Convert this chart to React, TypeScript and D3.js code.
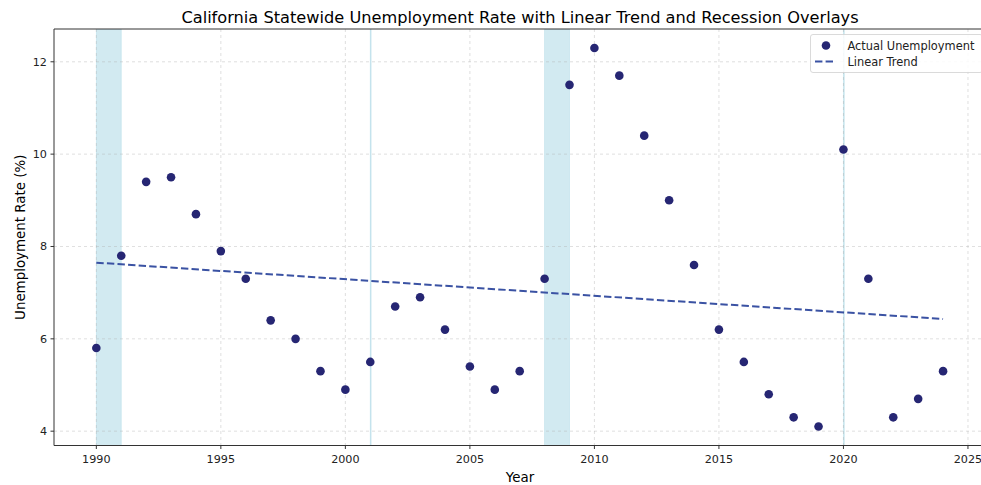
import React from "react";
import * as d3 from "d3";

const years = [1990,1991,1992,1993,1994,1995,1996,1997,1998,1999,2000,2001,2002,2003,2004,2005,2006,2007,2008,2009,2010,2011,2012,2013,2014,2015,2016,2017,2018,2019,2020,2021,2022,2023,2024];
const rates = [5.8,7.8,9.4,9.5,8.7,7.9,7.3,6.4,6.0,5.3,4.9,5.5,6.7,6.9,6.2,5.4,4.9,5.3,7.3,11.5,12.3,11.7,10.4,9.0,7.6,6.2,5.5,4.8,4.3,4.1,10.1,7.3,4.3,4.7,5.3];
const trendYears = [1990, 2024];
const trendValues = [7.65, 6.43];
const recessionStarts = [1990, 2001, 2008, 2020];
const recessionEnds = [1991, 2001, 2009, 2020];
const xTicks = [1990, 1995, 2000, 2005, 2010, 2015, 2020, 2025];
const yTicks = [4, 6, 8, 10, 12];

const W = 981, H = 485;
const left = 54, top = 29, right = 985.4, bottom = 445.5;

export default function App() {
  const x = d3.scaleLinear().domain([1988.3, 2025.7]).range([left, right]);
  const y = d3.scaleLinear().domain([3.69, 12.71]).range([bottom, top]);
  const line = d3.line<number>().x((d, i) => x(trendYears[i])).y((d) => y(d));
  const font = "DejaVu Sans, sans-serif";
  return (
    <svg width={W} height={H} style={{ position: "absolute", left: 0, top: 0, background: "#fff" }} fontFamily={font}>
      <defs>
        <clipPath id="plot"><rect x={left} y={top} width={right - left} height={bottom - top} /></clipPath>
      </defs>
      <rect x={0} y={0} width={W} height={H} fill="#fff" />
      <g clipPath="url(#plot)">
        {recessionStarts.map((s, i) => (
          <rect key={i} x={x(s)} y={top} width={Math.max(x(recessionEnds[i]) - x(s), 0.8)} height={bottom - top}
            fill="#add8e6" fillOpacity={0.55} stroke="#add8e6" strokeOpacity={0.55} strokeWidth={0.8} />
        ))}
        {xTicks.map((t) => (
          <line key={t} x1={x(t)} x2={x(t)} y1={top} y2={bottom} stroke="#b0b0b0" strokeOpacity={0.5} strokeWidth={0.8} strokeDasharray="3,3" />
        ))}
        {yTicks.map((t) => (
          <line key={t} x1={left} x2={right} y1={y(t)} y2={y(t)} stroke="#b0b0b0" strokeOpacity={0.5} strokeWidth={0.8} strokeDasharray="3,3" />
        ))}
        <path d={line(trendValues) || ""} fill="none" stroke="#3a52a3" strokeWidth={2} strokeDasharray="7.4,3.2" />
        {years.map((yr, i) => (
          <circle key={yr} cx={x(yr)} cy={y(rates[i])} r={4.3} fill="#262673" />
        ))}
      </g>
      <line x1={left} x2={left} y1={top} y2={bottom} stroke="#333" strokeWidth={1} />
      <line x1={left} x2={right} y1={bottom} y2={bottom} stroke="#333" strokeWidth={1} />
      <line x1={left} x2={right} y1={top} y2={top} stroke="#333" strokeWidth={1} />
      {xTicks.map((t) => (
        <g key={t}>
          <line x1={x(t)} x2={x(t)} y1={bottom} y2={bottom + 3.5} stroke="#333" />
          <text x={x(t)} y={bottom + 17.5} textAnchor="middle" fontSize={11.2} fill="#222">{t}</text>
        </g>
      ))}
      {yTicks.map((t) => (
        <g key={t}>
          <line x1={left - 3.5} x2={left} y1={y(t)} y2={y(t)} stroke="#333" />
          <text x={left - 7} y={y(t) + 4} textAnchor="end" fontSize={11.2} fill="#222">{t}</text>
        </g>
      ))}
      <text x={520} y={23} textAnchor="middle" fontSize={16.2} fill="#000">California Statewide Unemployment Rate with Linear Trend and Recession Overlays</text>
      <text x={520} y={482} textAnchor="middle" fontSize={13.4} fill="#000">Year</text>
      <text transform={`translate(24.5,${(top + bottom) / 2}) rotate(-90)`} textAnchor="middle" fontSize={13.4} fill="#000">Unemployment Rate (%)</text>
      <g>
        <rect x={810.5} y={34.5} width={172} height={38} rx={2.5} fill="#fff" fillOpacity={0.85} stroke="#d0d0d0" strokeWidth={0.8} />
        <circle cx={826} cy={45.5} r={4.3} fill="#262673" />
        <text x={847.5} y={49.5} fontSize={11.4} fill="#222">Actual Unemployment</text>
        <line x1={815} x2={835} y1={61.5} y2={61.5} stroke="#3a52a3" strokeWidth={2} strokeDasharray="7.4,3.2" />
        <text x={847.5} y={66} fontSize={11.4} fill="#222">Linear Trend</text>
      </g>
    </svg>
  );
}
